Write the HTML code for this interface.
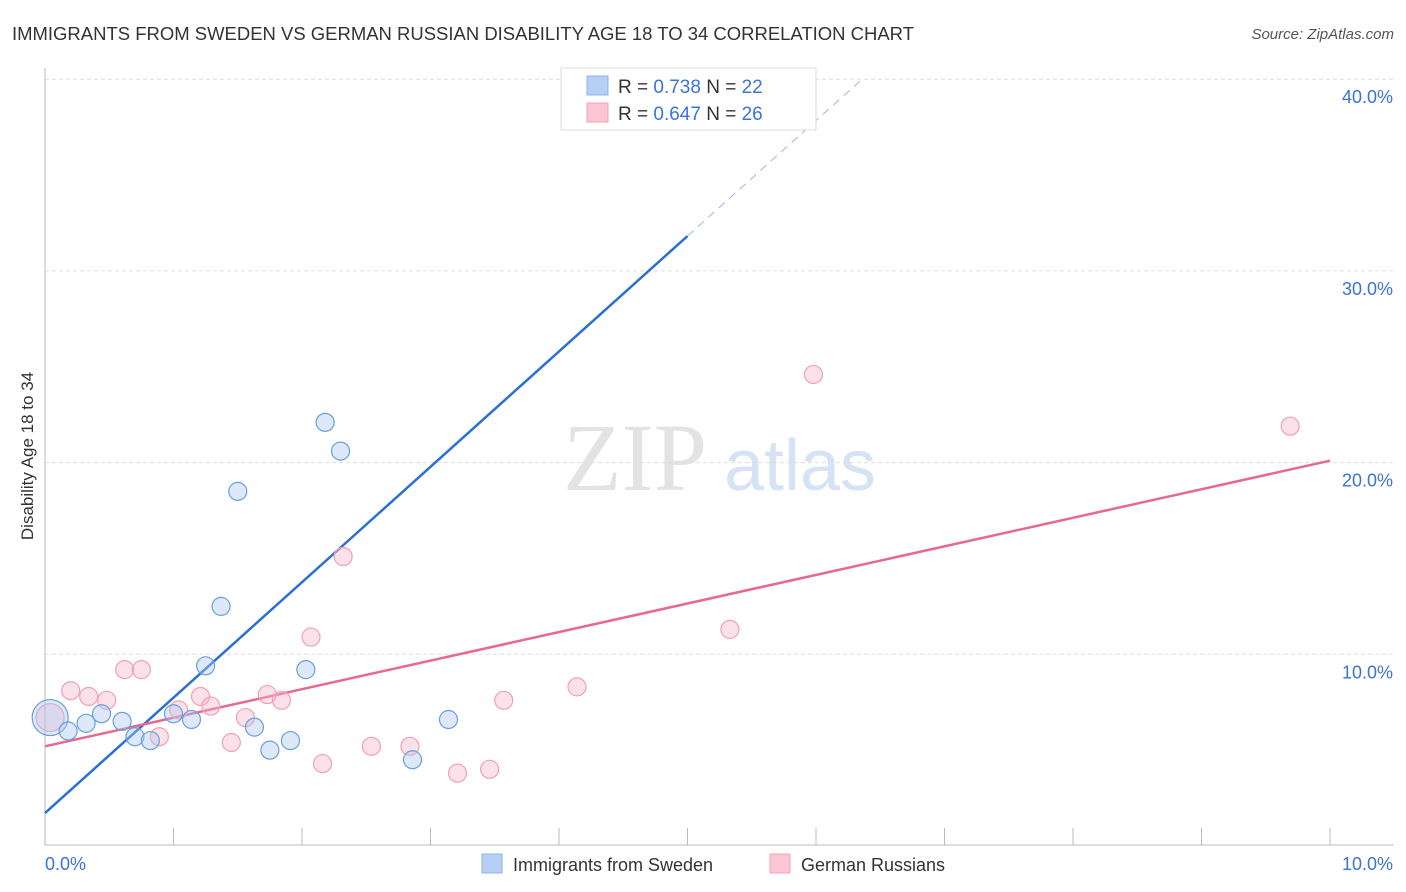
<!DOCTYPE html>
<html><head><meta charset="utf-8"><style>
body{margin:0;background:#fff;font-family:"Liberation Sans",sans-serif;}
svg{display:block}
</style></head><body>
<svg id="chart" width="1406" height="892" viewBox="0 0 1406 892" xmlns="http://www.w3.org/2000/svg">
<text x="12" y="40" font-size="18" fill="#333" textLength="902" lengthAdjust="spacingAndGlyphs">IMMIGRANTS FROM SWEDEN VS GERMAN RUSSIAN DISABILITY AGE 18 TO 34 CORRELATION CHART</text>
<text x="1394" y="39" font-size="15" fill="#555" text-anchor="end" font-style="italic">Source: ZipAtlas.com</text>
<g>
<text x="635" y="490" font-size="96" fill="#e3e3e3" text-anchor="middle" font-family="Liberation Serif,serif">ZIP</text>
<text x="800" y="490" font-size="72" fill="#d5e3f5" text-anchor="middle">atlas</text>
</g>
<text transform="translate(33,456) rotate(-90)" font-size="17" fill="#333" text-anchor="middle">Disability Age 18 to 34</text>
<g id="grid"></g><g id="axes"></g><g id="lines"></g><g id="points"></g>
<g>
<rect x="561" y="68" width="255" height="62" fill="#fff" stroke="#ddd"/>
<rect x="587" y="76" width="21" height="19" fill="#b6d0f5" stroke="#8fb2e8"/>
<rect x="587" y="103" width="21" height="19" fill="#fbc5d4" stroke="#f0a0b8"/>
<text x="618" y="93" font-size="19" fill="#333">R = <tspan fill="#3b73d6">0.738</tspan>   N = <tspan fill="#3b73d6">22</tspan></text>
<text x="618" y="120" font-size="19" fill="#333">R = <tspan fill="#3b73d6">0.647</tspan>   N = <tspan fill="#3b73d6">26</tspan></text>
</g>
<g>
<rect x="482" y="854" width="20" height="19" fill="#b6d0f5" stroke="#8fb2e8"/>
<text x="513" y="871" font-size="18" fill="#333">Immigrants from Sweden</text>
<rect x="770" y="854" width="20" height="19" fill="#fbc5d4" stroke="#f0a0b8"/>
<text x="801" y="871" font-size="18" fill="#333">German Russians</text>
</g>
</svg>
<script>
const yTicks=[10,20,30,40];
const yTickLabels=["10.0%","20.0%","30.0%","40.0%"];
const xTicks=[1,2,3,4,5,6,7,8,9,10];
const swedenX=[0.04,0.18,0.32,0.44,0.6,0.7,0.82,1.0,1.14,1.25,1.37,1.5,1.63,1.75,1.91,2.03,2.18,2.3,2.86,3.14,4.14,4.71];
const swedenY=[6.7,6.0,6.4,6.9,6.5,5.7,5.5,6.9,6.6,9.4,12.5,18.5,6.2,5.0,5.5,9.2,22.1,20.6,4.5,6.6,38.3,38.4];
const russX=[0.04,0.2,0.34,0.48,0.62,0.75,0.89,1.04,1.21,1.29,1.45,1.56,1.73,1.84,2.07,2.16,2.32,2.54,2.84,3.21,3.46,3.57,4.14,5.33,5.98,9.69];
const russY=[6.7,8.1,7.8,7.6,9.2,9.2,5.7,7.1,7.8,7.3,5.4,6.7,7.9,7.6,10.9,4.3,15.1,5.2,5.2,3.8,4.0,7.6,8.3,11.3,24.6,21.9];
const swedenLine=[1.72,6.02]; // intercept, slope per 1%
const russLine=[5.2,1.49];
const sx=v=>45+v*128.5, sy=v=>846-v*19.17;
const NS="http://www.w3.org/2000/svg";
function mk(p,t,a){const e=document.createElementNS(NS,t);for(const k in a)e.setAttribute(k,a[k]);document.getElementById(p).appendChild(e);return e;}
yTicks.forEach((t,i)=>{
 const g=mk('grid','line',{x1:45,x2:1394,y1:sy(t),y2:sy(t),stroke:'#ddd','stroke-dasharray':'4,3'});
 
 
 const l=mk('axes','text',{x:1393,y:sy(t)+24,'font-size':18,fill:'#3b73d6','text-anchor':'end'});
 l.textContent=yTickLabels[i];
 
 
});
const ax=mk('axes','path',{d:'M45,68V845H1394',fill:'none',stroke:'#bbb'});


xTicks.forEach(t=>{
 const k=mk('axes','line',{x1:sx(t),x2:sx(t),y1:828,y2:845,stroke:'#bbb'});
 
 
});
[[0,"0.0%",'start',45],[10,"10.0%",'end',1393]].forEach(a=>{
 const l=mk('axes','text',{x:a[3],y:870,'font-size':18,fill:'#3b73d6','text-anchor':a[2]});
 l.textContent=a[1];
 
 
});
let e=mk('lines','line',{x1:sx(0),y1:sy(swedenLine[0]),x2:sx(5),y2:sy(swedenLine[0]+5*swedenLine[1]),stroke:'#2a6fd6','stroke-width':2.5});


e=mk('lines','line',{x1:sx(5),y1:sy(swedenLine[0]+5*swedenLine[1]),x2:sx(6.34),y2:sy(swedenLine[0]+6.34*swedenLine[1]),stroke:'#9ab6e0','stroke-width':1,'stroke-dasharray':'8,6'});


e=mk('lines','line',{x1:sx(0),y1:sy(russLine[0]),x2:sx(10),y2:sy(russLine[0]+10*russLine[1]),stroke:'#e8688f','stroke-width':2.5});


russX.forEach((x,i)=>{
 const c=mk('points','circle',{cx:sx(x),cy:sy(russY[i]),r:i==0?14:9,fill:'rgba(248,180,200,0.4)',stroke:'#f0a0b8','stroke-width':1.2});
 
 
});
swedenX.forEach((x,i)=>{
 const c=mk('points','circle',{cx:sx(x),cy:sy(swedenY[i]),r:i==0?18:9,fill:'rgba(170,200,240,0.4)',stroke:'#6a9ee0','stroke-width':1.2});
 
 
});
</script>
</body></html>
